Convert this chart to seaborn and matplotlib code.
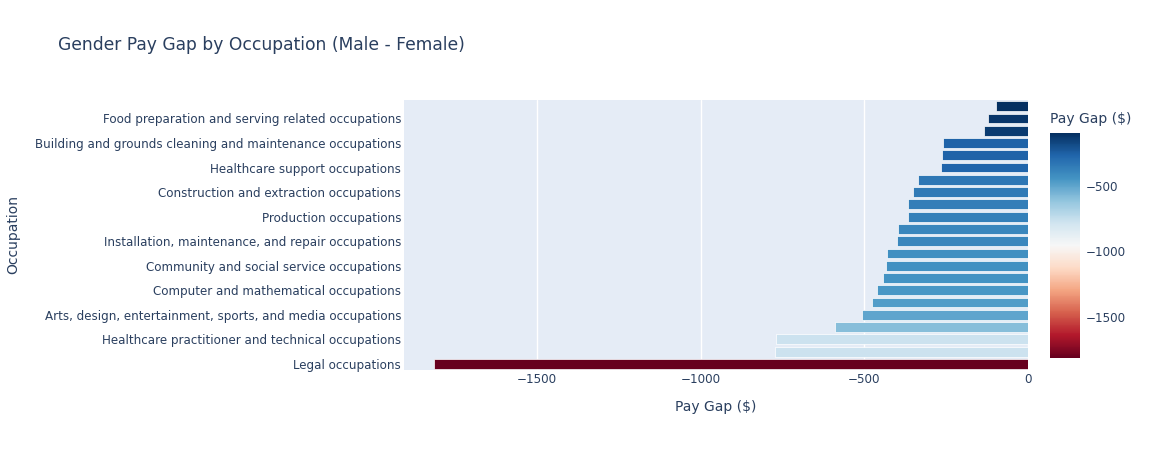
import numpy as np
import pandas as pd
import matplotlib
matplotlib.use('Agg')
import matplotlib.pyplot as plt
import seaborn as sns

# Occupations, top to bottom as drawn
occupations = [
    'Farming, fishing, and forestry occupations',
    'Food preparation and serving related occupations',
    'Personal care and service occupations',
    'Building and grounds cleaning and maintenance occupations',
    'Transportation and material moving occupations',
    'Healthcare support occupations',
    'Office and administrative support occupations',
    'Construction and extraction occupations',
    'Protective service occupations',
    'Production occupations',
    'Education, training, and library occupations',
    'Installation, maintenance, and repair occupations',
    'Architecture and engineering occupations',
    'Community and social service occupations',
    'Life, physical, and social science occupations',
    'Computer and mathematical occupations',
    'Sales and related occupations',
    'Arts, design, entertainment, sports, and media occupations',
    'Business and financial operations occupations',
    'Healthcare practitioner and technical occupations',
    'Management occupations',
    'Legal occupations',
]
pay_gap = [-99, -121, -134, -261, -263, -267, -336, -352, -366, -368, -398,
           -400, -432, -435, -443, -460, -478, -508, -591, -771, -773, -1816]

df = pd.DataFrame({'occupation': occupations, 'gap': pay_gap})

text_color = '#2a3f5f'
bg = '#E5ECF6'

sns.set_style('white')
plt.rcParams['font.family'] = ['DejaVu Sans']

cmap = plt.get_cmap('RdBu')
norm = matplotlib.colors.Normalize(vmin=min(pay_gap), vmax=max(pay_gap))
palette = {o: cmap(norm(g)) for o, g in zip(occupations, pay_gap)}

fig = plt.figure(figsize=(11.56, 4.5), dpi=100)
ax = fig.add_axes([404 / 1156, 80 / 450, 624 / 1156, 270 / 450])
ax.set_facecolor(bg)

sns.barplot(data=df, y='occupation', x='gap', hue='occupation', order=occupations,
            palette=palette, saturation=1, legend=False, width=0.8,
            edgecolor='white', linewidth=0.5, ax=ax)

ax.set_xlim(min(pay_gap) * 1.05, 0)
ax.set_ylim(len(occupations) - 0.5, -0.5)
ax.set_xticks([-1500, -1000, -500, 0])
ax.set_xticklabels(['\u22121500', '\u22121000', '\u2212500', '0'])
ax.xaxis.grid(True, color='white', linewidth=1)
ax.set_axisbelow(True)

# only every other category label is shown
ax.set_yticks(range(len(occupations)))
ax.set_yticklabels([o if i % 2 == 1 else '' for i, o in enumerate(occupations)])

ax.tick_params(axis='both', length=0, labelsize=8.6, colors=text_color)
ax.tick_params(axis='y', pad=2)
ax.tick_params(axis='x', pad=2)
for s in ax.spines.values():
    s.set_visible(False)

ax.set_xlabel('Pay Gap ($)', fontsize=10, color=text_color, labelpad=10)
ax.set_ylabel('')
fig.text(13 / 1156, 1 - 235 / 450, 'Occupation', rotation=90, fontsize=10,
         color=text_color, ha='center', va='center')

fig.text(58 / 1156, 1 - 45 / 450, 'Gender Pay Gap by Occupation (Male - Female)',
         fontsize=12.3, color=text_color, ha='left', va='center')

# colorbar
cax = fig.add_axes([1050 / 1156, 92 / 450, 30 / 1156, 225 / 450])
sm = matplotlib.cm.ScalarMappable(norm=norm, cmap=cmap)
cb = fig.colorbar(sm, cax=cax)
cb.outline.set_visible(False)
cb.set_ticks([-1500, -1000, -500])
cb.set_ticklabels(['\u22121500', '\u22121000', '\u2212500'])
cax.tick_params(length=0, labelsize=8.6, colors=text_color, pad=4)
fig.text(1050 / 1156, 1 - 119 / 450, 'Pay Gap ($)', fontsize=10, color=text_color,
         ha='left', va='center')

fig.savefig('out.png', dpi=100, facecolor='white')
